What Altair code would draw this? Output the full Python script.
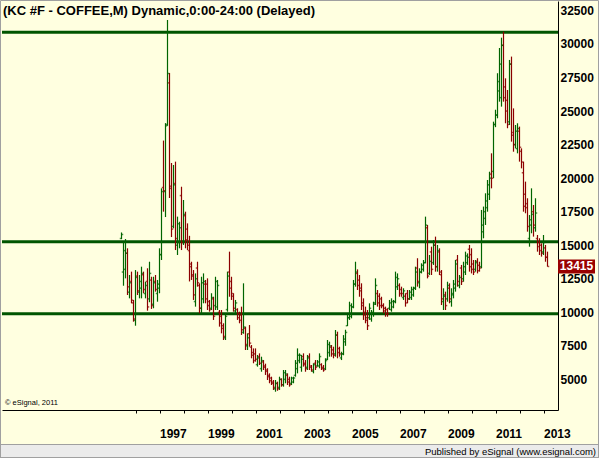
import altair as alt
import pandas as pd

# Monthly OHLC bars (price x100), one per month, oldest first
HIGH = [15950,15260,15460,14770,12780,13030,10920,13150,13030,12780,
        13400,13030,12280,13280,13770,12650,12650,12780,12410,14770,
        19240,22800,24100,31790,27840,21130,20980,21230,17130,16750,
        19360,18370,17500,16630,15700,13770,13150,12900,13770,12160,
        12650,12900,12410,12530,10920,11420,11160,12650,12410,10170,
        10170,9180,9925,13030,14520,12650,11420,10920,10300,10045,
        10420,12160,8930,8430,9050,7560,7310,7310,6820,6940,
        6690,6440,6170,5830,5450,5200,4955,4955,4830,5200,
        5080,5700,5700,5450,5200,5200,5200,6440,7310,6940,
        6820,6940,6440,6820,6940,6070,6200,6440,6440,6940,
        6200,6070,6570,7935,7810,7560,7435,8680,8555,7435,
        7060,8300,8700,9800,10790,10670,12410,13770,13200,12780,
        12160,11040,10420,10170,10670,10170,10790,12530,11660,11420,
        11160,10670,10420,10300,10920,11040,10920,13030,12900,12160,
        11910,11790,11420,11660,11660,11910,11910,13400,14030,13280,
        13650,13900,17130,16510,14270,14890,15390,15640,15020,14770,
        13150,11790,11540,12280,12160,11790,12410,13900,14270,12780,
        13530,13770,14520,14390,15020,14770,13900,13900,14030,13770,
        17630,17880,18870,19860,20480,21850,24210,25100,27820,29700,
        30470,30920,27440,26570,28810,29060,25200,23960,24090,23840,
        22220,21230,19740,18500,17250,19240,18000,18500,15760,15520,
        15140,15760,15020,14520]
LOW = [15450,11980,12530,11290,11040,10670,9300,9000,11290,11040,
       11040,11420,11040,10120,10750,10250,10300,11540,10790,11420,
       13900,17500,17100,23900,18520,15610,16260,14640,14270,14770,
       14640,15020,14770,14640,12300,12410,10920,10420,11910,9925,
       9925,10670,10670,10170,10045,10170,9430,10170,10170,8930,
       8430,7935,7935,10045,11160,10920,10045,9925,9430,9180,
       8310,8400,7190,7190,7435,6570,6200,6320,5950,6070,
       5570,5700,5330,4955,4710,4580,4210,4080,4150,4210,
       4455,4455,4710,4580,4455,4580,4710,5200,5450,6200,
       5570,5950,5570,5700,5700,5570,5450,5700,5950,5825,
       5700,5570,5700,6440,6690,6690,6570,6690,6570,6690,
       6440,6800,7500,8970,9430,9550,10300,11910,11660,11160,
       10170,9430,9180,8680,9430,9300,9670,10540,10420,10170,
       10300,9925,9670,9670,10170,10045,10300,10670,11660,11160,
       11160,10920,10420,10670,10920,10920,11160,11660,11910,11790,
       12900,13030,13650,12530,12780,12780,13530,13030,13030,12780,
       10540,10170,10170,10790,10670,10420,11040,11540,11910,11790,
       12035,12280,12780,13530,13030,12900,12780,13030,12900,13030,
       13280,15515,16510,17500,18370,19240,20000,23800,24460,25700,
       25330,25700,24090,23720,23960,22720,21970,22220,21850,21230,
       20730,17500,17380,16010,14890,15890,15640,16010,14520,14270,
       14150,14270,13770,13400]
OPEN = [15500,13000,13200,14400,11500,12300,10700,9400,12700,11500,
        11800,12800,11400,12300,11000,12400,10600,12300,11400,11800,
        14300,19300,19000,24000,27100,19400,16400,19600,15000,15200,
        18700,15300,17200,16200,14600,13600,12800,10800,13300,12000,
        10300,11000,12100,12100,10800,10300,11000,10500,10400,10000,
        9700,9000,8100,10200,13000,12300,11200,10100,10200,9900,
        9800,8500,8800,7500,8400,7400,7000,6900,6100,6700,
        5800,6300,6000,5700,5300,5100,4800,4300,4700,4400,
        5000,4600,5000,5300,5000,4700,4800,5300,5800,6400,
        5900,6700,6200,5900,6700,6000,5600,6200,6000,6000,
        6100,5900,5800,6500,7000,7400,7200,6900,8300,7300,
        6600,6900,7800,9000,9600,9700,10400,12100,12900,12400,
        11800,10700,10000,9600,9600,9500,9900,10700,11400,11200,
        11000,10500,10300,10200,10300,10200,10400,10800,11900,12000,
        11700,11100,11200,11400,11000,11100,11300,11800,13300,12200,
        13000,13200,13700,16300,12900,14500,13700,15000,13400,14500,
        12800,10800,11300,11000,11800,10800,11300,11800,13900,12000,
        13300,12500,13000,13700,14700,14300,13600,13200,13800,13500,
        13400,16000,17000,17800,18800,20300,20500,24000,24700,26500,
        26000,29900,26800,25800,24200,28500,23400,22500,22200,23500,
        22000,20400,18800,18100,15500,16500,17500,16300,15500,15200,
        15000,14500,14800,14100]
CLOSE = [15800,14600,14400,11900,12200,10900,9500,12600,11600,12300,
         12900,11700,12000,10400,12900,10500,12200,11700,12100,14300,
         19000,19060,23900,27800,19240,16200,19500,15500,16600,16300,
         15200,17300,15400,15000,13400,12700,11300,12500,12200,10300,
         12200,12300,11000,10500,10200,11100,9700,12300,12000,9200,
         8800,8200,9700,12700,11800,11400,10300,10700,9600,9400,
         8700,8900,7600,8100,7700,6800,6400,6500,6600,6200,
         6400,5900,5600,5200,4900,4700,4400,4700,4300,5000,
         4600,5500,5400,4800,4600,5100,5100,6200,6800,6800,
         6500,6100,5800,6600,5900,5700,6100,5900,6300,6700,
         5800,5700,6400,7600,7500,6900,6800,8300,7000,6900,
         6900,8000,8500,9600,10500,10400,12100,13000,12000,11600,
         10500,9800,9400,9000,10300,10000,10600,12000,10700,10500,
         10500,10100,9900,9900,10700,10800,10800,12600,12500,11400,
         11400,11600,10700,11000,11500,11700,11800,13000,12300,13000,
         13500,13700,16500,12700,13800,13200,15000,13400,14600,13000,
         11000,11200,10500,12000,11000,11400,12100,13600,12300,12600,
         12300,13400,14200,14100,13400,13200,13000,13700,13100,13300,
         16500,17500,18300,19500,20000,19990,24000,24700,27200,28500,
         29900,26000,25000,24000,28500,23200,22500,23500,23700,22300,
         21200,17900,17800,16400,16900,17300,16500,17400,14900,14600,
         14400,15200,14100,13415]

LEVELS = [30870, 15260, 9900]
Y_TICKS = [5000, 7500, 10000, 12500, 15000, 17500, 20000, 22500, 25000, 27500, 30000, 32500]
X_TICK_POS = [7, 19, 31, 43, 55, 67, 79, 91, 103, 115, 127, 139, 151, 163, 175, 187, 199, 211]
X_TICK_LABELS = ["", "1997", "", "1999", "", "2001", "", "2003", "", "2005", "", "2007",
                 "", "2009", "", "2011", "", "2013"]
TITLE = "(KC #F - COFFEE,M) Dynamic,0:00-24:00 (Delayed)"
COPYRIGHT = "\u00a9 eSignal, 2011"
FOOTER = "Published by eSignal (www.esignal.com)"

FONT = "Liberation Sans"
BG = "#FFFFE0"
UP = "#006400"
DOWN = "#8B0000"
LEVEL_COLOR = "#005500"

df = pd.DataFrame({
    "idx": list(range(len(HIGH))),
    "high": HIGH, "low": LOW, "open": OPEN, "close": CLOSE,
})
df["dir"] = ["up" if c >= o else "down" for o, c in zip(OPEN, CLOSE)]

label_expr = "''"
for pos, lab in zip(reversed(X_TICK_POS), reversed(X_TICK_LABELS)):
    label_expr = f"datum.value == {pos} ? '{lab}' : ({label_expr})"

x_enc = alt.X("idx:Q",
              scale=alt.Scale(domain=[-59.75, 218.25], nice=False, zero=False),
              axis=alt.Axis(values=X_TICK_POS, labelExpr=label_expr, title=None, grid=False,
                            domainColor="black", tickColor="black", tickSize=3,
                            labelFont=FONT, labelFontSize=12, labelFontWeight="bold",
                            labelColor="black", labelAlign="left", labelPadding=15,
                            labelOverlap=False, labelFlush=False))
y_scale = alt.Scale(domain=[2717, 33204], nice=False, zero=False)
y_axis = alt.Axis(orient="right", values=Y_TICKS, format="d", title=None, grid=False, tickSize=0,
                  domainColor="black", labelFont=FONT, labelFontSize=12,
                  labelFontWeight="bold", labelColor="black", labelPadding=2,
                  labelBaseline="middle", labelOverlap=False, labelFlush=False)
color_enc = alt.Color("dir:N", scale=alt.Scale(domain=["up", "down"], range=[UP, DOWN]), legend=None)

base = alt.Chart(df)
wicks = base.mark_rule(strokeWidth=1.2).encode(
    x=x_enc, y=alt.Y("low:Q", scale=y_scale, axis=y_axis), y2="high:Q", color=color_enc)
open_ticks = base.mark_tick(orient="horizontal", size=1.5, thickness=1.5, xOffset=-1).encode(
    x=x_enc, y=alt.Y("open:Q", scale=y_scale, axis=y_axis), color=color_enc)
close_ticks = base.mark_tick(orient="horizontal", size=1.5, thickness=1.5, xOffset=1).encode(
    x=x_enc, y=alt.Y("close:Q", scale=y_scale, axis=y_axis), color=color_enc)

levels = alt.Chart(pd.DataFrame({"level": LEVELS})).mark_rule(
    color=LEVEL_COLOR, strokeWidth=3).encode(y=alt.Y("level:Q", scale=y_scale, axis=y_axis))

last = pd.DataFrame({"close": [CLOSE[-1]], "label": [str(CLOSE[-1])]})
price_box = alt.Chart(last).mark_rule(color="#990000", strokeWidth=14, strokeCap="butt").encode(
    y=alt.Y("close:Q", scale=y_scale, axis=y_axis), x=alt.value(556), x2=alt.value(593))
price_text = alt.Chart(last).mark_text(color="white", font=FONT, fontSize=12, fontWeight="bold",
                                       align="center", baseline="middle").encode(
    y=alt.Y("close:Q", scale=y_scale, axis=y_axis), x=alt.value(574.5), text="label:N")

texts = pd.DataFrame({"title": [TITLE], "copy": [COPYRIGHT], "footer": [FOOTER]})
title_text = alt.Chart(texts).mark_text(font=FONT, fontSize=13, fontWeight="bold", color="black",
                                        align="left", baseline="alphabetic").encode(
    x=alt.value(1), y=alt.value(14), text="title:N")
copy_text = alt.Chart(texts).mark_text(font=FONT, fontSize=7.5, color="black",
                                       align="left", baseline="middle").encode(
    x=alt.value(3), y=alt.value(402), text="copy:N")
footer_band = alt.Chart(texts).mark_rect(color="#EBEBEB", stroke="#A0A0A0", strokeWidth=1).encode(
    x=alt.value(-1.5), x2=alt.value(596.5), y=alt.value(443.5), y2=alt.value(457.5))
footer_text = alt.Chart(texts).mark_text(font=FONT, fontSize=9.5, color="black",
                                         align="right", baseline="middle").encode(
    x=alt.value(594), y=alt.value(450.5), text="footer:N")
frame = alt.Chart(texts).mark_rect(fill=None, stroke="#A0A0A0", strokeWidth=1).encode(
    x=alt.value(-1.5), x2=alt.value(596.5), y=alt.value(-0.5), y2=alt.value(456.5))

chart = alt.layer(
    levels, wicks, open_ticks, close_ticks, price_box, price_text,
    title_text, copy_text, footer_band, footer_text, frame
).properties(
    width=556, height=409,
    padding={"left": 2, "top": 1, "right": 41, "bottom": 48},
    autosize=alt.AutoSizeParams(type="none"),
    background=BG,
).configure_view(stroke=None)

chart.save("out.html", embed_options={"renderer": "svg", "actions": False})
